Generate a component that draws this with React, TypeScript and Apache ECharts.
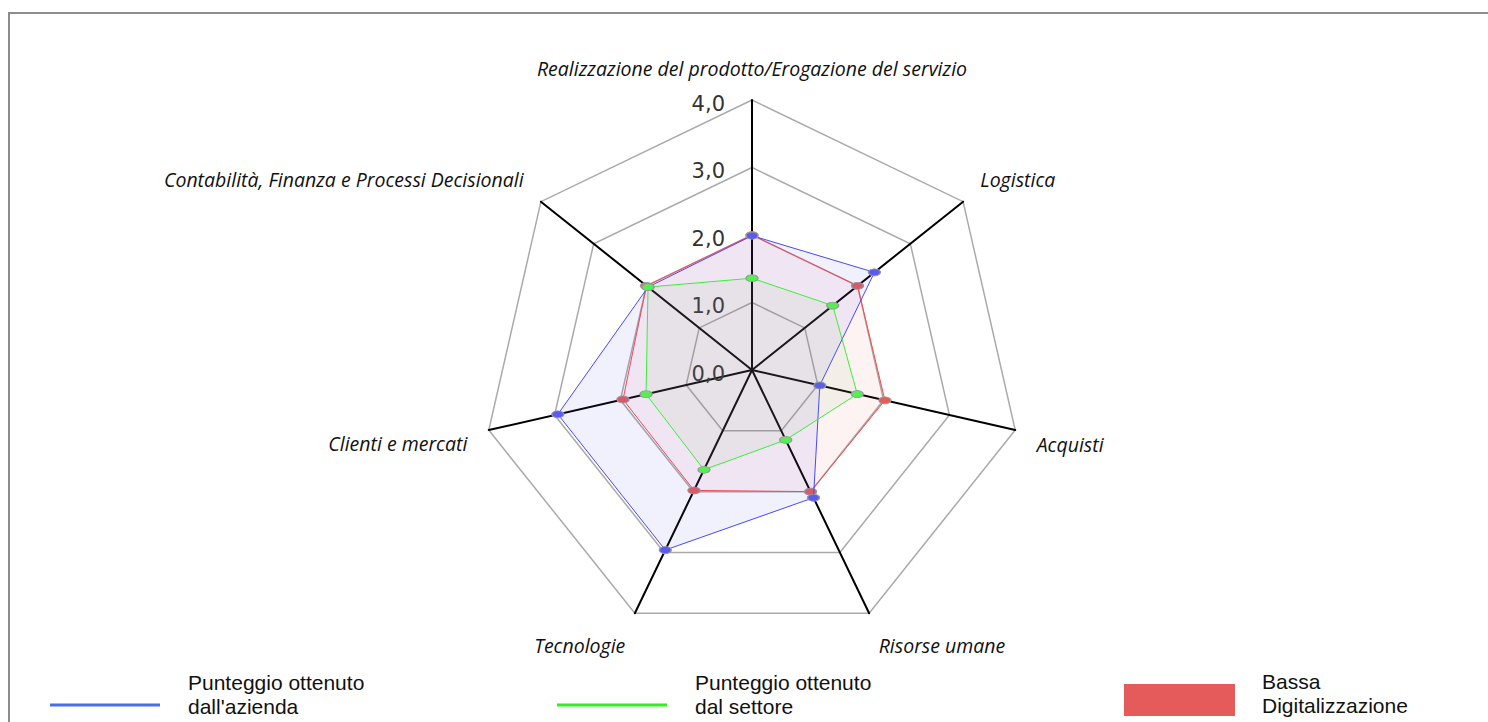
import React, { useEffect, useRef } from 'react';
import * as echarts from 'echarts';

// Indicators in ECharts order (counter-clockwise from the top)
const indicatorNames = [
  'Realizzazione del prodotto/Erogazione del servizio',
  'Contabilità, Finanza e Processi Decisionali',
  'Clienti e mercati',
  'Tecnologie',
  'Risorse umane',
  'Acquisti',
  'Logistica',
];
const maxValue = 4;
const aziendaValues = [1.99, 1.97, 2.95, 2.96, 2.1, 1.03, 2.32];
const settoreValues = [1.36, 1.97, 1.61, 1.64, 1.15, 1.6, 1.53];
const bassaValues = [2.0, 2.0, 1.96, 1.98, 2.0, 2.02, 2.0];
const seriesNames = ["Punteggio ottenuto\ndall'azienda", 'Punteggio ottenuto\ndal settore', 'Bassa\nDigitalizzazione'];

const fmt = (v: number) => v.toFixed(1).replace('.', ',');

// vertical nudge of each indicator name (px, + = down)
const nameShift = [0, -8, 9, 12, 12, 10, -8];

export default function App() {
  const ref = useRef<HTMLDivElement>(null);
  useEffect(() => {
    if (!ref.current) return;
    const chart = echarts.init(ref.current, undefined, { renderer: 'svg' });
    const nameFont = {
      color: '#111',
      fontStyle: 'italic',
      fontFamily: 'Open Sans',
      fontSize: 19.5,
    };
    const nameRich: Record<string, any> = {};
    nameShift.forEach((s, i) => {
      nameRich['n' + i] = { ...nameFont, lineHeight: Math.max(2, Math.abs(s) * 2) };
    });
    const legendText = {
      color: '#111',
      fontFamily: 'Liberation Sans',
      fontSize: 21,
      lineHeight: 24,
      padding: [0, 0, 0, 23],
    };
    chart.setOption({
      animation: false,
      backgroundColor: 'transparent',
      radar: {
        center: [752, 370],
        radius: 270,
        startAngle: 90,
        shape: 'polygon',
        splitNumber: 4,
        nameGap: 22,
        indicator: indicatorNames.map((n, i) => ({
          name: n,
          min: 0,
          max: maxValue,
          ...(i === 0 ? { axisLabel: { show: true } } : {}),
        })),
        axisName: {
          ...nameFont,
          formatter: (name: string) => {
            const i = indicatorNames.indexOf(name);
            const s = nameShift[i] || 0;
            if (s === 0) return name;
            const tag = 'n' + i;
            return s > 0 ? `{${tag}| }\n{${tag}|${name}}` : `{${tag}|${name}}\n{${tag}| }`;
          },
          rich: nameRich,
        },
        axisLine: { lineStyle: { color: '#000', width: 2 } },
        splitLine: { lineStyle: { color: '#aaa', width: 1.5 } },
        splitArea: { show: false },
        axisTick: { show: false },
        axisLabel: {
          show: false,
          margin: 27,
          color: '#333',
          fontFamily: 'DejaVu Sans',
          fontSize: 21,
          verticalAlign: 'top',
          lineHeight: 7,
          formatter: (v: number) => fmt(v),
        },
      },
      legend: [
        {
          left: 50,
          top: 670,
          padding: 0,
          selectedMode: false,
          icon: 'rect',
          itemWidth: 110,
          itemHeight: 3,
          data: [{ name: seriesNames[0], itemStyle: { color: '#4a6cf0', borderWidth: 0 } }],
          formatter: (n: string) => `${n}\n{s| }`,
          textStyle: { ...legendText, rich: { s: { lineHeight: 22 } } },
        },
        {
          left: 557,
          top: 670,
          padding: 0,
          selectedMode: false,
          icon: 'rect',
          itemWidth: 110,
          itemHeight: 3,
          data: [{ name: seriesNames[1], itemStyle: { color: '#33ee22', borderWidth: 0 } }],
          formatter: (n: string) => `${n}\n{s| }`,
          textStyle: { ...legendText, rich: { s: { lineHeight: 22 } } },
        },
        {
          left: 1124,
          top: 669,
          padding: 0,
          selectedMode: false,
          icon: 'rect',
          itemWidth: 111,
          itemHeight: 32,
          data: [{ name: seriesNames[2], itemStyle: { color: '#e55a5a', borderWidth: 0 } }],
          formatter: (n: string) => `${n}\n{s| }`,
          textStyle: { ...legendText, padding: [0, 0, 0, 22], rich: { s: { lineHeight: 14 } } },
        },
      ],
      series: [
        {
          type: 'radar',
          name: seriesNames[2],
          z: 2,
          symbol: 'circle',
          symbolSize: [12, 7],
          lineStyle: { color: '#ff4a4a', width: 1 },
          itemStyle: { color: '#e85a5a', borderColor: '#999', borderWidth: 1 },
          areaStyle: { color: 'rgba(245,70,70,0.09)' },
          data: [{ name: seriesNames[2], value: bassaValues }],
        },
        {
          type: 'radar',
          name: seriesNames[0],
          z: 3,
          symbol: 'circle',
          symbolSize: [12, 7],
          lineStyle: { color: '#4848ff', width: 1 },
          itemStyle: { color: '#5a5af5', borderColor: '#999', borderWidth: 1 },
          areaStyle: { color: 'rgba(90,90,240,0.12)' },
          data: [{ name: seriesNames[0], value: aziendaValues }],
        },
        {
          type: 'radar',
          name: seriesNames[1],
          z: 4,
          symbol: 'circle',
          symbolSize: [12, 7],
          lineStyle: { color: '#3cf03c', width: 1 },
          itemStyle: { color: '#55ee55', borderColor: '#999', borderWidth: 1 },
          areaStyle: { color: 'rgba(110,190,100,0.1)' },
          data: [{ name: seriesNames[1], value: settoreValues }],
        },
      ],
    });
    return () => chart.dispose();
  }, []);

  return (
    <div
      style={{
        position: 'fixed',
        left: 0,
        top: 0,
        width: 1488,
        height: 722,
        overflow: 'hidden',
        background: '#fff',
      }}
    >
      <div
        style={{
          position: 'absolute',
          left: 8,
          top: 12,
          width: 1600,
          height: 800,
          borderTop: '2px solid #8c8c8c',
          borderLeft: '2px solid #8c8c8c',
        }}
      />
      <div ref={ref} style={{ position: 'absolute', left: 0, top: 0, width: 1488, height: 722 }} />
    </div>
  );
}
